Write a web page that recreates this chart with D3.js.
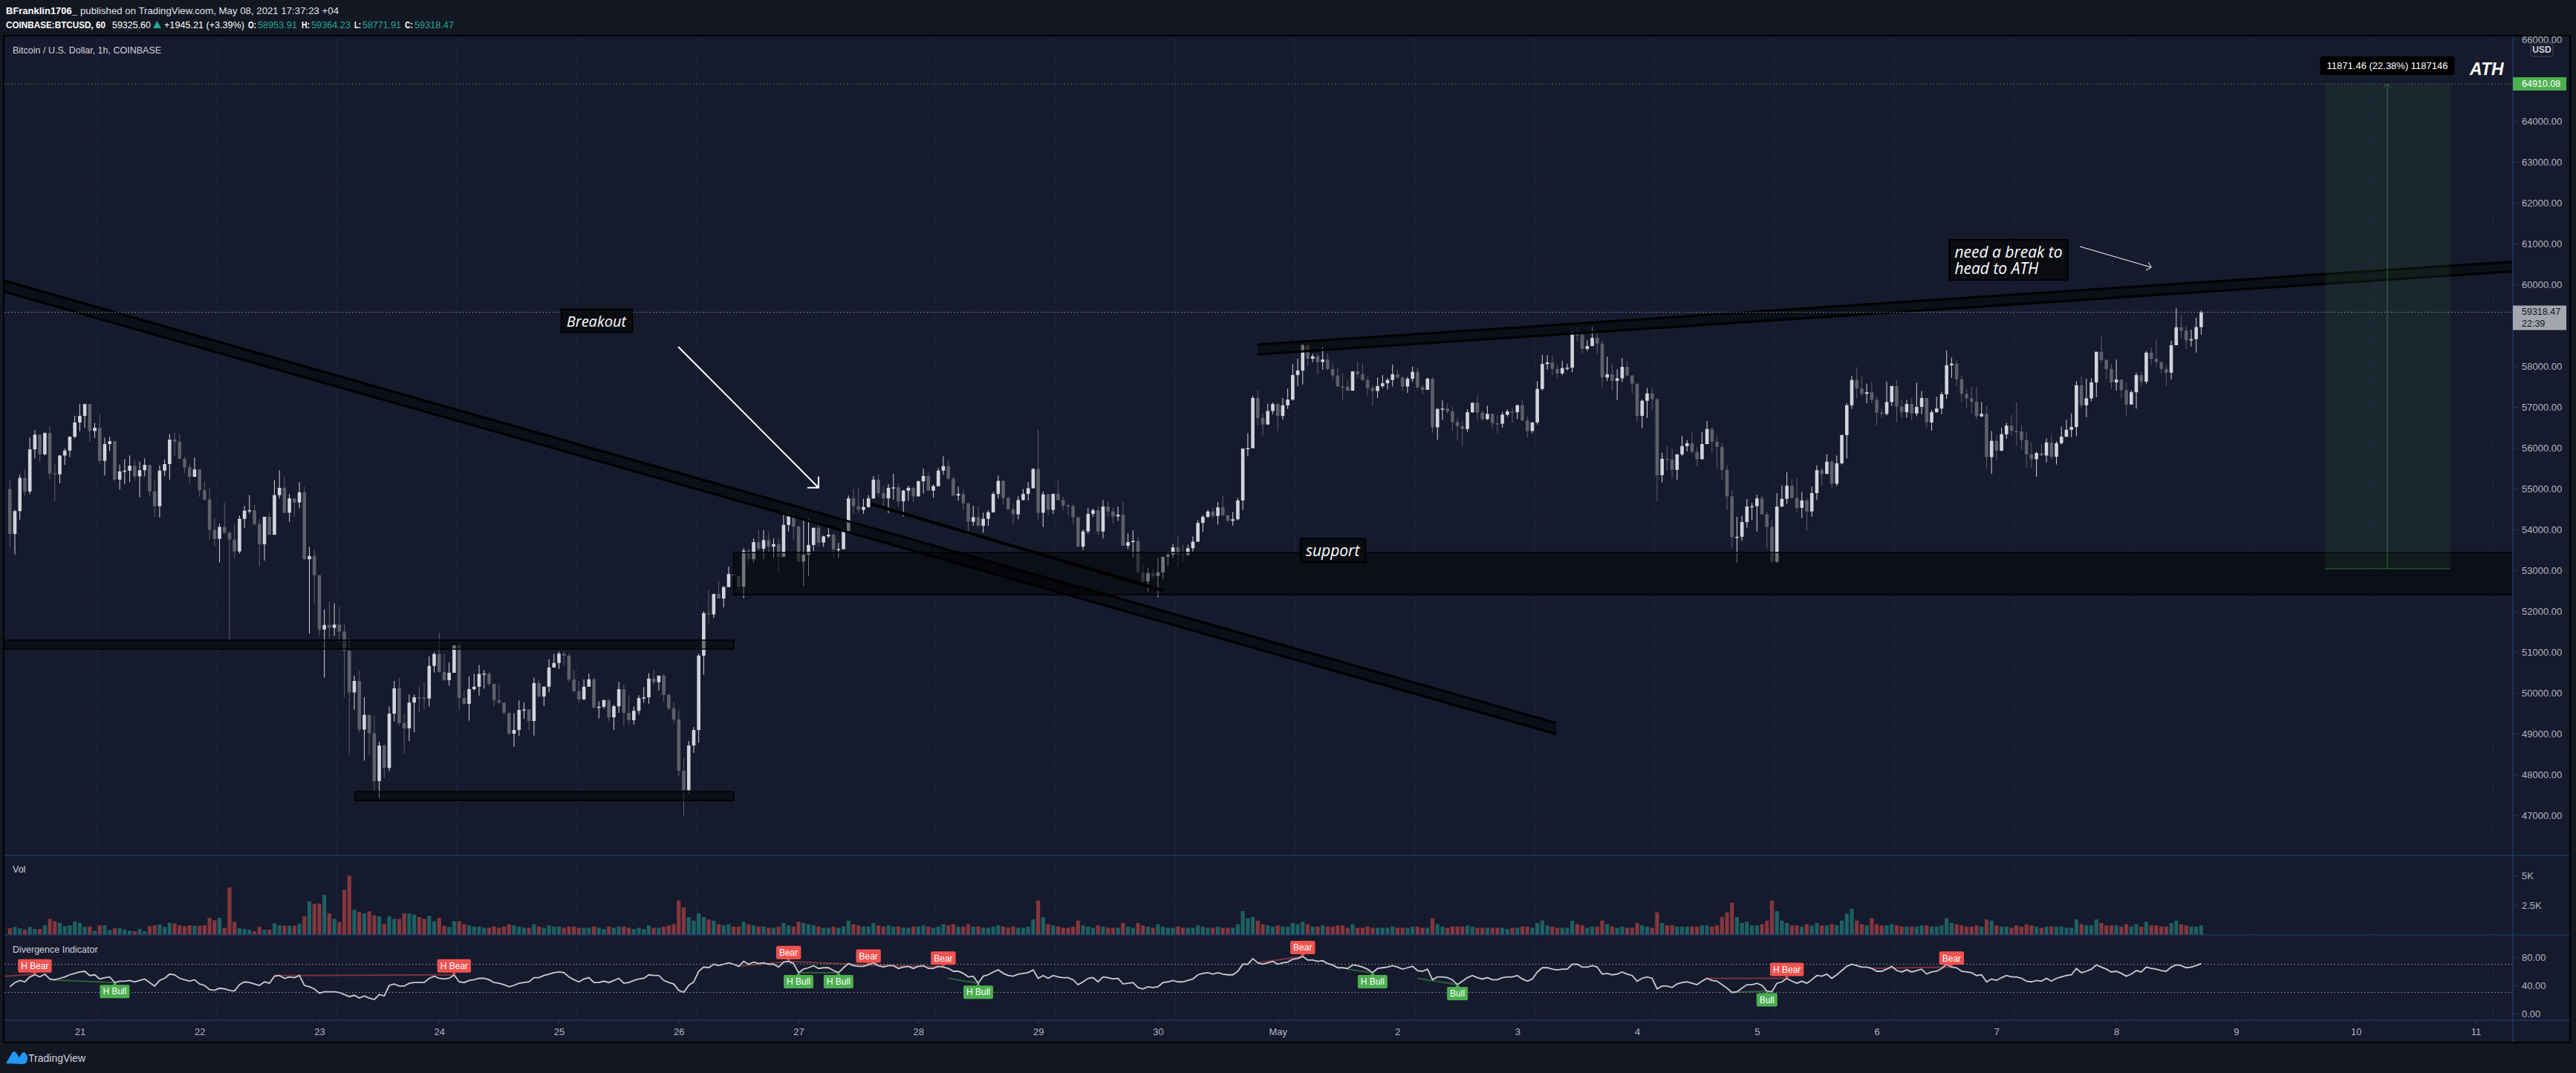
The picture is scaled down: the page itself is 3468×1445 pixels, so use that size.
<!DOCTYPE html>
<html><head><meta charset="utf-8">
<script src="https://cdn.jsdelivr.net/npm/d3@7"></script>
<style>body{margin:0;background:#131722;overflow:hidden}svg{display:block}</style>
</head><body>
<script>
// ---------------- DATA ----------------
const firstOpen = 54990;
const startTimeUTC = Date.UTC(2021, 3, 20, 10); // first hourly candle
const closes = [
53890,54450,55260,54930,55960,56320,55840,56360,55370,55350,
55810,55930,56270,56620,56780,57070,56410,56490,55680,56090,
56160,55220,55420,55440,55560,55300,55450,55580,54930,54570,
55440,55600,56200,56150,55730,55520,55290,55470,54960,54730,
53990,53770,54060,53920,53750,53460,54260,54460,54470,54130,
53640,54310,53870,54840,55020,54410,54760,54660,54910,53270,
53350,52880,51550,51660,51590,51670,51500,51030,50010,50290,
49100,49460,49010,47840,48710,48160,49490,50110,49260,49130,
49760,49890,49880,49860,50660,50950,50510,50310,50490,51160,
49870,49730,50090,50150,50460,50470,50220,49820,49760,49510,
49000,49090,49580,49590,49310,50240,49910,50150,50620,50730,
50960,50910,50330,50040,49840,50150,50330,49640,49660,49820,
49400,49670,50090,49510,49330,49560,49870,49890,50350,50260,
50420,49950,49620,49350,48090,47620,48710,49090,50910,51950,
51920,52420,52310,52590,52910,52850,52600,53480,53270,53690,
53530,53740,53580,53640,53330,54110,54330,54070,53210,53380,
53620,54040,53680,53830,53870,53510,53520,53960,54760,54570,
54480,54550,54760,55220,54890,54760,55020,55030,54690,54950,
55020,54810,55180,55310,54950,55060,55440,55550,55240,54830,
54870,54640,54190,54300,54090,54260,54420,54870,55190,54770,
54490,54370,54720,54870,55010,55480,54410,54860,54480,54870,
54720,54590,54570,54300,53580,53950,54380,54470,53950,54560,
54440,54320,54360,53600,53690,53720,52950,52730,52930,52860,
52950,53330,53380,53560,53390,53380,53540,53700,54160,54310,
54440,54330,54540,54350,54210,54250,54710,55980,55990,57220,
56730,56570,56900,57070,56780,57040,57180,57780,57890,58510,
58180,58240,58100,58160,57930,57770,57500,57490,57400,57870,
57800,57660,57460,57390,57510,57580,57660,57800,57720,57500,
57690,57860,57480,57420,57690,56500,56950,56960,56890,56630,
56530,56460,56870,57100,56860,56700,56830,56600,56590,56810,
56890,56870,57040,56670,56410,56620,57440,58050,58090,57930,
57820,57950,57960,58780,58770,58420,58490,58690,58550,57720,
57800,57640,57700,57980,57770,57570,56780,57150,57330,57190,
55330,55730,55710,55460,55840,56040,56110,55900,55720,56090,
56460,56150,56020,55460,54810,53810,53820,54180,54560,54570,
54760,54370,54060,53210,54560,54750,55070,54770,54530,54710,
54440,54890,55450,55360,55660,55120,55620,56310,57040,57660,
57450,57320,57360,57170,56860,56830,57120,57510,57010,56870,
57070,56840,57000,57220,56620,56870,56960,57310,58020,58060,
57680,57320,57210,57130,56770,56830,55770,56170,55930,56330,
56540,56410,56400,56190,55840,55720,55870,55810,56130,55780,
56110,56270,56440,56510,57530,57040,57210,57600,58350,58150,
57930,57600,57670,57410,57060,57360,57780,57620,58330,58180,
58100,57930,57840,58510,58950,58870,58630,58660,58953.91,59318.47];
const upperWick = [
220,30,80,220,290,110,20,20,170,230, 10,50,10,160,290,10,10,120,340,160,
110,10,170,280,250,140,210,160,10,260, 130,110,140,170,180,50,90,290,0,220,
290,290,80,590,40,380,80,120,370,130, 120,0,100,370,430,270,110,0,250,130,
220,160,0,380,580,520,440,180,310,130, 250,430,0,430,90,40,180,180,250,230,
200,70,270,380,230,40,520,450,250,20, 70,200,310,320,220,90,40,0,380,0,
0,410,230,170,0,130,90,0,200,220, 50,70,50,220,250,180,140,40,130,20,
20,40,180,110,430,110,70,250,130,220, 0,40,20,160,230,310,110,70,50,50,
560,0,320,20,180,70,50,60,50,90, 290,240,190,140,140,270,60,60,20,880,
640,0,160,20,160,40,150,50,70,250, 440,200,80,90,130,170,90,330,100,20,
50,20,20,180,80,40,60,240,160,50, 180,110,20,280,260,150,50,50,130,10,
30,130,90,120,150,20,970,70,10,10, 320,80,40,40,0,50,150,40,90,160,
130,90,200,320,210,260,100,210,130,110, 350,10,80,90,300,230,90,130,70,40,
40,100,130,280,0,180,60,0,370,50, 180,110,180,40,40,180,270,270,290,30,
30,60,70,310,140,140,200,320,160,10, 240,260,90,70,210,200,50,240,120,30,
50,130,110,70,30,30,20,200,130,110, 110,120,70,10,180,50,200,20,200,70,
50,80,20,140,110,10,190,230,180,160, 110,180,100,70,180,20,140,270,100,80,
430,250,220,220,140,0,0,30,130,150, 30,150,310,270,0,250,80,270,110,300,
200,40,150,100,110,150,490,150,190,80, 90,70,70,170,330,330,330,160,490,210,
50,160,120,60,180,50,190,20,50,100, 310,300,210,250,80,100,500,10,150,170,
100,160,590,170,0,60,290,60,360,150, 80,90,120,280,360,290,190,240,130,160,
70,270,700,160,190,290,40,230,100,180, 50,250,250,330,100,220,480,100,0,380,
20,130,490,0,200,50,60,80,40,120, 470,0,110,110,470,290,100,230,230,46];
const lowerWick = [
320,500,210,110,70,220,180,30,140,660, 220,230,160,40,220,290,270,170,80,360,
170,40,240,310,280,110,510,150,130,260, 280,130,380,340,10,130,160,10,160,20,
250,190,580,20,2450,160,50,230,70,30, 540,400,10,0,80,20,220,340,140,10,
1820,700,140,1180,260,200,260,1140,1530,420, 70,760,540,230,410,240,80,190,50,610,
310,730,360,270,200,160,20,20,140,0, 290,20,410,40,220,360,50,150,40,50,
40,320,150,220,220,360,40,230,140,0, 140,250,70,20,90,20,0,20,270,50,
90,310,160,320,110,110,90,110,160,70, 200,160,40,110,140,620,80,180,310,470,
220,90,0,220,0,50,50,280,170,70, 50,250,140,270,400,10,160,320,20,590,
520,150,110,100,40,200,210,20,10,190, 80,100,20,10,100,190,360,290,130,370,
250,140,10,300,10,170,10,100,20,0, 130,160,330,100,30,170,170,10,110,160,
0,240,120,10,160,10,170,350,130,100, 20,120,240,160,10,80,50,70,90,170,
130,170,110,0,80,380,0,40,250,80, 520,170,230,80,360,180,40,80,0,220,
30,60,210,20,30,120,30,230,190,0, 190,270,10,80,370,90,90,30,270,340,
180,90,310,190,30,110,0,320,20,10, 80,30,180,360,170,50,150,160,20,100,
160,80,30,120,0,130,310,270,60,210, 350,420,70,20,190,30,20,120,230,100,
50,250,170,20,160,50,50,40,140,150, 120,40,60,120,160,120,50,0,250,240,
90,240,470,90,10,240,150,300,420,270, 640,180,260,200,250,40,130,30,180,10,
0,290,520,240,330,270,630,100,140,330, 620,0,520,30,30,10,130,20,120,250,
470,130,170,280,0,120,60,30,570,90, 240,60,230,80,310,100,40,100,390,150,
140,170,70,180,140,200,10,140,110,310, 160,200,250,290,70,20,290,410,230,20,
110,110,350,230,320,220,430,10,170,60, 190,30,10,180,230,80,290,70,360,60,
250,160,200,210,300,10,400,110,50,150, 130,100,340,170,0,180,220,150,330,182];
const volumes = [
560,670,560,460,670,500,500,810,1350,1150, 1020,730,810,1120,1020,670,710,350,810,810,
400,560,560,460,350,310,500,310,730,810, 870,670,1020,980,810,730,810,770,770,810,
1440,1230,1440,600,4000,1080,560,500,440,310, 670,440,440,980,810,770,770,770,940,1560,
2810,2600,2640,3370,1810,1350,1080,3790,4980,2120, 1910,1810,1980,1640,1560,940,1560,1350,1350,1810,
1810,1710,1500,1350,1600,1150,1440,770,670,1150, 1150,900,800,700,700,600,600,700,600,700,
900,800,700,600,600,900,700,600,800,700, 700,600,700,700,600,600,600,700,600,500,
700,600,700,700,600,500,600,500,800,600, 600,700,800,900,2900,2300,1500,1200,1800,1500,
1300,1200,900,800,900,700,700,1100,900,800, 700,700,600,600,700,1000,800,700,1100,1000,
900,800,700,600,600,700,600,700,1200,900, 800,700,700,1000,800,700,800,700,700,600,
600,700,700,800,700,600,700,900,800,900, 700,700,900,700,700,600,600,700,800,700,
600,700,600,600,700,1300,2900,1500,900,800, 700,600,600,700,1200,800,700,600,800,700,
600,600,600,1000,700,600,1000,800,700,600, 900,700,600,600,700,600,600,600,800,700,
600,600,700,600,600,600,900,2000,1400,1500, 1200,900,800,700,800,700,700,1000,900,1100,
900,700,700,800,700,700,800,800,600,900, 600,600,700,600,600,600,600,700,600,600,
600,700,700,600,600,1400,900,700,600,700, 700,700,800,700,600,600,600,600,600,600,
500,600,600,700,700,600,1000,1200,800,700, 600,600,600,1200,900,800,600,700,700,1200,
900,700,600,700,600,600,1000,800,700,600, 1900,1000,800,800,700,700,700,700,700,800,
800,700,800,1500,1900,2700,1500,1000,1100,800, 800,900,1200,2900,2000,1200,1000,800,800,700,
900,800,1000,800,800,900,800,1200,1800,2200, 1200,900,800,1400,900,800,800,900,800,700,
700,700,700,800,800,700,700,800,1400,1000, 900,800,700,700,800,700,1300,1200,800,700,
700,600,800,700,900,800,700,600,700,700, 700,700,600,600,1300,900,800,800,1300,1000,
800,800,800,700,900,700,900,700,1100,800, 800,700,700,1000,1200,900,800,700,700,800];
const rsiValues = [
38,44,47,45,52,55,52,56,49,48, 50,52,55,57,59,60,54,55,49,51,
52,44,46,46,47,45,47,49,44,39, 47,50,56,55,50,48,46,48,42,40,
34,33,36,35,33,32,41,45,44,42, 40,45,43,53,54,50,52,51,54,40,
38,35,29,31,31,31,30,27,24,26, 22,25,22,20,27,25,40,42,39,39,
43,44,44,44,50,53,50,49,50,55, 45,44,47,48,50,50,48,44,43,41,
38,40,43,44,45,51,51,54,56,58, 59,58,52,48,45,49,51,44,44,46,
44,47,50,43,44,47,49,50,55,54, 54,47,44,42,33,30,40,45,60,66,
65,70,68,70,72,70,67,74,70,73, 71,72,70,70,66,73,74,71,58,63,
65,68,64,65,65,61,58,65,71,68, 67,67,69,72,68,66,68,68,64,66,
67,64,67,68,64,64,67,66,64,60, 60,57,52,53,43,53,55,59,62,57,
54,53,56,57,58,62,50,54,50,54, 52,51,51,48,41,45,50,51,45,52,
51,49,50,42,43,44,37,35,38,37, 38,44,45,47,45,45,47,49,55,57,
58,56,58,56,55,55,60,70,70,78, 72,70,72,74,70,72,73,77,78,81,
76,76,74,75,71,69,65,65,64,69, 68,66,63,58,64,65,66,68,66,63,
65,67,61,60,63,48,52,52,51,48, 41,46,51,54,51,49,51,48,48,51,
52,52,54,49,46,49,59,65,65,63, 62,63,63,70,70,66,66,68,66,56,
57,55,56,59,56,54,46,50,52,50, 35,39,39,37,42,44,45,43,41,46,
50,47,46,41,36,30,31,36,41,41, 43,40,32,31,43,45,50,46,43,46,
43,48,54,53,56,50,55,61,67,70, 68,66,66,64,60,60,63,67,61,59,
62,59,61,63,56,59,60,64,70,66, 65,60,59,58,54,55,45,49,47,51,
54,52,52,50,46,45,47,46,50,46, 50,52,54,55,64,58,60,63,69,66,
63,59,60,57,53,56,61,59,66,64, 63,61,60,66,69,68,65,66,68,71];
// divergence labels (candle index, text)
const divLabelIdx  = [5,21,89,156,158,166,172,187,194,259,273,290,352,356,389];
const divLabelText = ['H Bear','H Bull','H Bear','Bear','H Bull','H Bull','Bear','Bear','H Bull','Bear','H Bull','Bull','Bull','H Bear','Bear'];
// divergence lines: [fromIdx, fromValue, toIdx, toValue, kind]
const divLines = [[-1,53,5,56,'bear'],[8,48,21,44,'bull'],[53,54,89,55,'bear'],[146,67,156,74,'bear'],
  [158,58,166,58,'bull'],[156,74,172,69,'bear'],[172,69,187,66,'bear'],[188,50,194,43,'bull'],
  [250,72,259,81,'bear'],[268,63,273,58,'bull'],[282,50,290,41,'bull'],[345,30,352,32,'bull'],[340,50,356,50,'bear'],[373,64,389,66,'bear']];
const priceTicks = [47000,48000,49000,50000,51000,52000,53000,54000,55000,56000,57000,58000,60000,61000,62000,63000,64000,66000];
const volTicks = [2500,5000], volTickLabels = ['2.5K','5K'];
const rsiTicks = [0,40,80];
const timeTickLabels = ['21','22','23','24','25','26','27','28','29','30','May','2','3','4','5','6','7','8','9','10','11'];
const lastPrice = 59318.47, athPrice = 64910.08, measureLow = 53038.62;

// ---------------- LAYOUT ----------------
const W=3468,H=1445, L=6, R=3383, TOP=48, PB=1152, VB=1259, IB=1374, XB=1404, AR=3460;
const HOUR=3600e3;
const tOf = i => new Date(startTimeUTC + i*HOUR);
const x = d3.scaleUtc().domain([tOf(-1.0863), tOf(501.44)]).range([L,R]);
const y = d3.scaleLinear().domain([47000,66000]).range([1098,53]);
const yv = d3.scaleLinear().domain([0,5000]).range([VB,1179]);
const yr = d3.scaleLinear().domain([0,80]).range([1365,1289]);
const xi = i => x(tOf(i));

const candles = closes.map((c,i)=>{const o=i===0?firstOpen:closes[i-1];
  return {i,o,c,h:Math.max(o,c)+upperWick[i],l:Math.min(o,c)-lowerWick[i],v:volumes[i],r:rsiValues[i],up:c>=o};});

const BG='#161a2d', UP='#d1d4dc', DN='#5d606b', AX='#b2b5be', SEP='#1f3766';
const svg=d3.select('body').append('svg').attr('width',W).attr('height',H)
  .style('font-family','"Liberation Sans", Arial, sans-serif');
svg.append('rect').attr('width',W).attr('height',H).attr('fill','#131722');
svg.append('rect').attr('x',L).attr('y',TOP).attr('width',AR-L).attr('height',XB-TOP).attr('fill',BG);
const defs=svg.append('defs');
defs.append('clipPath').attr('id','cp').append('rect').attr('x',L).attr('y',TOP).attr('width',R-L).attr('height',PB-TOP);
defs.append('clipPath').attr('id','ci').append('rect').attr('x',L).attr('y',VB).attr('width',R-L).attr('height',IB-VB);

// grid
const days=d3.utcDay.range(new Date(Date.UTC(2021,3,21)), new Date(Date.UTC(2021,4,12)));
svg.append('g').selectAll('line').data(days).join('line')
  .attr('x1',d=>x(new Date(+d+3.5*HOUR))).attr('x2',d=>x(new Date(+d+3.5*HOUR)))
  .attr('y1',TOP).attr('y2',IB).attr('stroke','#243661').attr('stroke-dasharray','1.5,3').attr('stroke-width',1);

// candles
const gp=svg.append('g').attr('clip-path','url(#cp)');
const cw=4.6;
gp.append('g').selectAll('rect').data(candles).join('rect')
  .attr('x',d=>xi(d.i)-0.5).attr('width',1).attr('y',d=>y(d.h)).attr('height',d=>Math.max(1,y(d.l)-y(d.h)))
  .attr('fill',d=>d.up?UP:DN);
gp.append('g').selectAll('rect').data(candles).join('rect')
  .attr('x',d=>xi(d.i)-cw/2).attr('width',cw).attr('y',d=>y(Math.max(d.o,d.c)))
  .attr('height',d=>Math.max(1.5,Math.abs(y(d.o)-y(d.c)))).attr('fill',d=>d.up?UP:DN);

// drawings
const bandFill='rgba(0,0,0,0.45)';
function band(i0,p0,i1,p1,thick){
  const pts=[[xi(i0),y(p0)],[xi(i1),y(p1)],[xi(i1),y(p1-thick)],[xi(i0),y(p0-thick)]];
  gp.append('path').attr('d','M'+pts.join('L')+'Z').attr('fill',bandFill);
  [[0,1],[3,2]].forEach(([a,b])=>gp.append('line').attr('x1',pts[a][0]).attr('y1',pts[a][1]).attr('x2',pts[b][0]).attr('y2',pts[b][1]).attr('stroke','#000').attr('stroke-width',3));
}
band(-1.1,60090,309.8,49260,270);
band(250,58527,501.4,60556,240);
gp.append('line').attr('x1',xi(172.7)).attr('y1',y(54618)).attr('x2',xi(230.9)).attr('y2',y(52509)).attr('stroke','#000').attr('stroke-width',4).attr('stroke-linecap','round');
function box(i0,i1,p0,p1){gp.append('rect').attr('x',xi(i0)).attr('width',xi(i1)-xi(i0)).attr('y',y(p1)).attr('height',y(p0)-y(p1))
  .attr('fill','rgba(0,0,0,0.45)').attr('stroke','#000').attr('stroke-width',1.5);}
box(-1.2,145,51070,51290);
box(69.1,145,47360,47580);
box(145,502,52400,53436);

// measure tool
const mx0=xi(463.8), mx1=xi(488.9), mxc=xi(476.3);
gp.append('rect').attr('x',mx0).attr('width',mx1-mx0).attr('y',y(athPrice)).attr('height',y(measureLow)-y(athPrice)).attr('fill','rgba(76,175,80,0.09)');
gp.append('line').attr('x1',mx0).attr('x2',mx1).attr('y1',y(measureLow)).attr('y2',y(measureLow)).attr('stroke','rgba(76,175,80,0.55)');
gp.append('line').attr('x1',mxc).attr('x2',mxc).attr('y1',y(measureLow)).attr('y2',y(athPrice)).attr('stroke','rgba(76,175,80,0.55)');
gp.append('path').attr('d',`M${mxc-5},${y(athPrice)+5}L${mxc},${y(athPrice)}L${mxc+5},${y(athPrice)+5}`).attr('fill','none').attr('stroke','rgba(76,175,80,0.6)');

// price lines
gp.append('line').attr('x1',L).attr('x2',R).attr('y1',y(athPrice)).attr('y2',y(athPrice)).attr('stroke','#4caf50').attr('stroke-dasharray','1.5,3').attr('opacity',0.8);
gp.append('line').attr('x1',L).attr('x2',R).attr('y1',y(lastPrice)).attr('y2',y(lastPrice)).attr('stroke','#9598a1').attr('stroke-dasharray','1.5,3');

// arrows
function arrow(i0,p0,i1,p1,len,w){
  const x0=xi(i0),y0=y(p0),x1=xi(i1),y1=y(p1); const a=Math.atan2(y1-y0,x1-x0)+Math.PI;
  const l1=[x1+len*Math.cos(a-Math.PI/4),y1+len*Math.sin(a-Math.PI/4)], l2=[x1+len*Math.cos(a+Math.PI/4),y1+len*Math.sin(a+Math.PI/4)];
  gp.append('path').attr('d',`M${x0},${y0}L${x1},${y1}M${l1}L${x1},${y1}L${l2}`).attr('fill','none').attr('stroke','#fff').attr('stroke-width',w);
}
arrow(133.9,58473,162,55024,15,2);
arrow(414.7,60927,429,60418,8,1);

// text notes  (anchor: 'middle' => i is centre, 'start' => i is left edge of text)
function note(i,p,lines,fs,anchor){
  const g=gp.append('g'); const cx=xi(i), cy=y(p);
  const t=g.append('text').attr('font-family','"Open Sans", sans-serif').attr('font-style','italic').attr('font-size',fs).attr('fill','#fff');
  lines.forEach((s,k)=>t.append('tspan').attr('x',cx).attr('y',cy+(k-(lines.length-1)/2)*fs*1.05).attr('dy','0.35em').attr('text-anchor',anchor).text(s));
  const bb=t.node().getBBox();
  g.insert('rect','text').attr('x',bb.x-7).attr('y',bb.y-2).attr('width',bb.width+14).attr('height',bb.height+4).attr('fill','#0a0c12').attr('stroke','#000').attr('stroke-width',2);
}
note(117.5,59100,['Breakout'],20,'middle');
note(265,53473,['support'],21,'middle');
note(389.6,60590,['need a break to','head to ATH'],21,'start');
gp.append('text').attr('x',xi(496.2)).attr('y',y(65267)).attr('dy','0.35em').attr('text-anchor','middle')
  .attr('font-family','"Liberation Sans", Arial').attr('font-weight','bold').attr('font-style','italic').attr('font-size',23).attr('fill','#fff').text('ATH');
// measure label
{const g=gp.append('g'); const t=g.append('text').attr('x',mxc).attr('y',y(65356)).attr('dy','0.35em').attr('text-anchor','middle')
  .attr('font-size',13).attr('fill','#fff').text('11871.46 (22.38%) 1187146');
 const bb=t.node().getBBox(); g.insert('rect','text').attr('x',bb.x-9).attr('y',bb.y-5).attr('width',bb.width+18).attr('height',bb.height+10).attr('rx',3).attr('fill','#000');}

// volume
svg.append('g').selectAll('rect').data(candles).join('rect')
  .attr('x',d=>xi(d.i)-2.6).attr('width',5.2).attr('y',d=>yv(d.v)).attr('height',d=>yv(0)-yv(d.v))
  .attr('fill',d=>d.up?'rgba(38,166,154,0.5)':'rgba(239,83,80,0.5)');

// RSI
const gi=svg.append('g').attr('clip-path','url(#ci)');
[70,30].forEach(v=>gi.append('line').attr('x1',L).attr('x2',R).attr('y1',yr(v)).attr('y2',yr(v)).attr('stroke','#9598a1').attr('stroke-dasharray','1.5,3'));
divLines.forEach(([a,av,b,bv,k])=>gi.append('line').attr('x1',xi(a)).attr('y1',yr(av)).attr('x2',xi(b)).attr('y2',yr(bv))
  .attr('stroke',k==='bear'?'rgba(239,83,80,0.45)':'rgba(76,175,80,0.45)').attr('stroke-width',2));
gi.append('path').datum(candles).attr('d',d3.line().x(d=>xi(d.i)).y(d=>yr(d.r))).attr('fill','none').attr('stroke','#c9cbd1').attr('stroke-width',1.8);
divLabelIdx.forEach((i,k)=>{
  const txt=divLabelText[k], bear=/Bear/.test(txt); const px=xi(i), py=yr(rsiValues[i]);
  const g=gi.append('g'); const col=bear?'#ef5350':'#4caf50';
  const t=g.append('text').attr('x',px).attr('text-anchor','middle').attr('font-size',12).attr('fill','#fff').text(txt);
  const w=t.node().getComputedTextLength()+8, h=18;
  const by=bear?py-3-h:py+3;
  t.attr('y',by+h/2).attr('dy','0.35em');
  g.insert('rect','text').attr('x',px-w/2).attr('y',by).attr('width',w).attr('height',h).attr('rx',2).attr('fill',col);
  g.insert('path','text').attr('d',bear?`M${px-3},${by+h}L${px},${by+h+3}L${px+3},${by+h}Z`:`M${px-3},${by}L${px},${by-3}L${px+3},${by}Z`).attr('fill',col);
});

// separators & frame
[PB,VB,IB].forEach(v=>svg.append('line').attr('x1',L).attr('x2',AR).attr('y1',v).attr('y2',v).attr('stroke',SEP).attr('stroke-width',1.5));
svg.append('line').attr('x1',R).attr('x2',R).attr('y1',TOP).attr('y2',XB).attr('stroke',SEP).attr('stroke-width',1.5);
svg.append('rect').attr('x',L-1).attr('y',TOP).attr('width',AR-L+1).attr('height',XB-TOP).attr('fill','none').attr('stroke','#000').attr('stroke-width',2);

// axes
function styleAxis(g){g.select('.domain').remove();g.selectAll('line').attr('stroke',SEP).attr('stroke-width',1.2);
  g.selectAll('text').attr('fill',AX).attr('font-size',13).attr('font-family','"Liberation Sans", Arial');}
svg.append('g').attr('transform',`translate(${R},0)`).call(d3.axisRight(y).tickValues(priceTicks).tickFormat(d=>d.toFixed(2)).tickSize(6).tickPadding(6)).call(styleAxis);
svg.append('g').attr('transform',`translate(${R},0)`).call(d3.axisRight(yv).tickValues(volTicks).tickFormat((d,k)=>volTickLabels[k]).tickSize(6).tickPadding(6)).call(styleAxis);
svg.append('g').attr('transform',`translate(${R},0)`).call(d3.axisRight(yr).tickValues(rsiTicks).tickFormat(d=>d.toFixed(2)).tickSize(6).tickPadding(6)).call(styleAxis);
svg.append('g').attr('transform',`translate(0,${IB})`).call(d3.axisBottom(x).tickValues(days).tickFormat((d,k)=>timeTickLabels[k]).tickSize(4).tickPadding(7)).call(styleAxis);

// USD badge
svg.append('rect').attr('x',3407).attr('y',58).attr('width',30).attr('height',18).attr('rx',3).attr('fill',BG).attr('stroke','#434651');
svg.append('text').attr('x',3422).attr('y',67).attr('dy','0.35em').attr('text-anchor','middle').attr('font-size',12).attr('font-weight','bold').attr('fill','#d1d4dc').text('USD');
// price badges
function badge(p,lines,bg,fg){const yy=y(p); const h=lines.length>1?33:18; const top=yy-9;
  svg.append('rect').attr('x',R).attr('y',top).attr('width',72).attr('height',h).attr('fill',bg);
  lines.forEach((s,k)=>svg.append('text').attr('x',R+12).attr('y',top+8.5+k*16).attr('dy','0.35em').attr('font-size',12.5).attr('fill',fg).text(s));}
badge(athPrice,[athPrice.toFixed(2)],'#4caf50','#fff');
badge(lastPrice,[lastPrice.toFixed(2),'22:39'],'#a3a6af','#131722');

// pane titles
svg.append('text').attr('x',17).attr('y',68).attr('dy','0.35em').attr('font-size',12.5).attr('fill','#d1d4dc').text('Bitcoin / U.S. Dollar, 1h, COINBASE');
svg.append('text').attr('x',17).attr('y',1171).attr('dy','0.35em').attr('font-size',12.5).attr('fill','#d1d4dc').text('Vol');
svg.append('text').attr('x',17).attr('y',1279).attr('dy','0.35em').attr('font-size',12.5).attr('fill','#d1d4dc').text('Divergence Indicator');

// header (segments fitted to the reference widths)
const TEAL='#26a69a';
function hseg(xx,yy,w,s,b,c){svg.append('text').attr('x',xx).attr('y',yy).attr('dy','0.35em').attr('font-size',13)
  .attr('font-weight',b?'bold':'normal').attr('fill',c).attr('textLength',w).attr('lengthAdjust','spacingAndGlyphs').text(s);}
hseg(8,14,96,'BFranklin1706_',true,'#fff');
hseg(108,14,348,'published on TradingView.com, May 08, 2021 17:37:23 +04',false,'#e0e3eb');
const h2parts=[[8,134,'COINBASE:BTCUSD, 60',true,'#fff'],[151,52,'59325.60',false,'#fff'],[221,108,'+1945.21 (+3.39%)',false,'#fff'],
 [334,11,'O:',true,'#fff'],[347,53,'58953.91',false,TEAL],[406,11,'H:',true,'#fff'],[419,53,'59364.23',false,TEAL],
 [477,9,'L:',true,'#fff'],[488,52,'58771.91',false,TEAL],[545,11,'C:',true,'#fff'],[558,53,'59318.47',false,TEAL]];
h2parts.forEach(([xx,w,s,b,c])=>hseg(xx,33,w,s,b,c));
svg.append('path').attr('d','M206,38L211.5,28L217,38Z').attr('fill',TEAL);

// TradingView logo
svg.append('path').attr('d','M8,1432 L16,1418 Q19,1414 22,1418 L26,1424 L29,1419 Q32,1415 35,1419 L37,1423 Q38,1433 30,1433 Z').attr('fill','#2196f3');
svg.append('text').attr('x',38).attr('y',1425).attr('dy','0.35em').attr('font-size',14).attr('fill','#d1d4dc').text('TradingView');
</script>
</body></html>
